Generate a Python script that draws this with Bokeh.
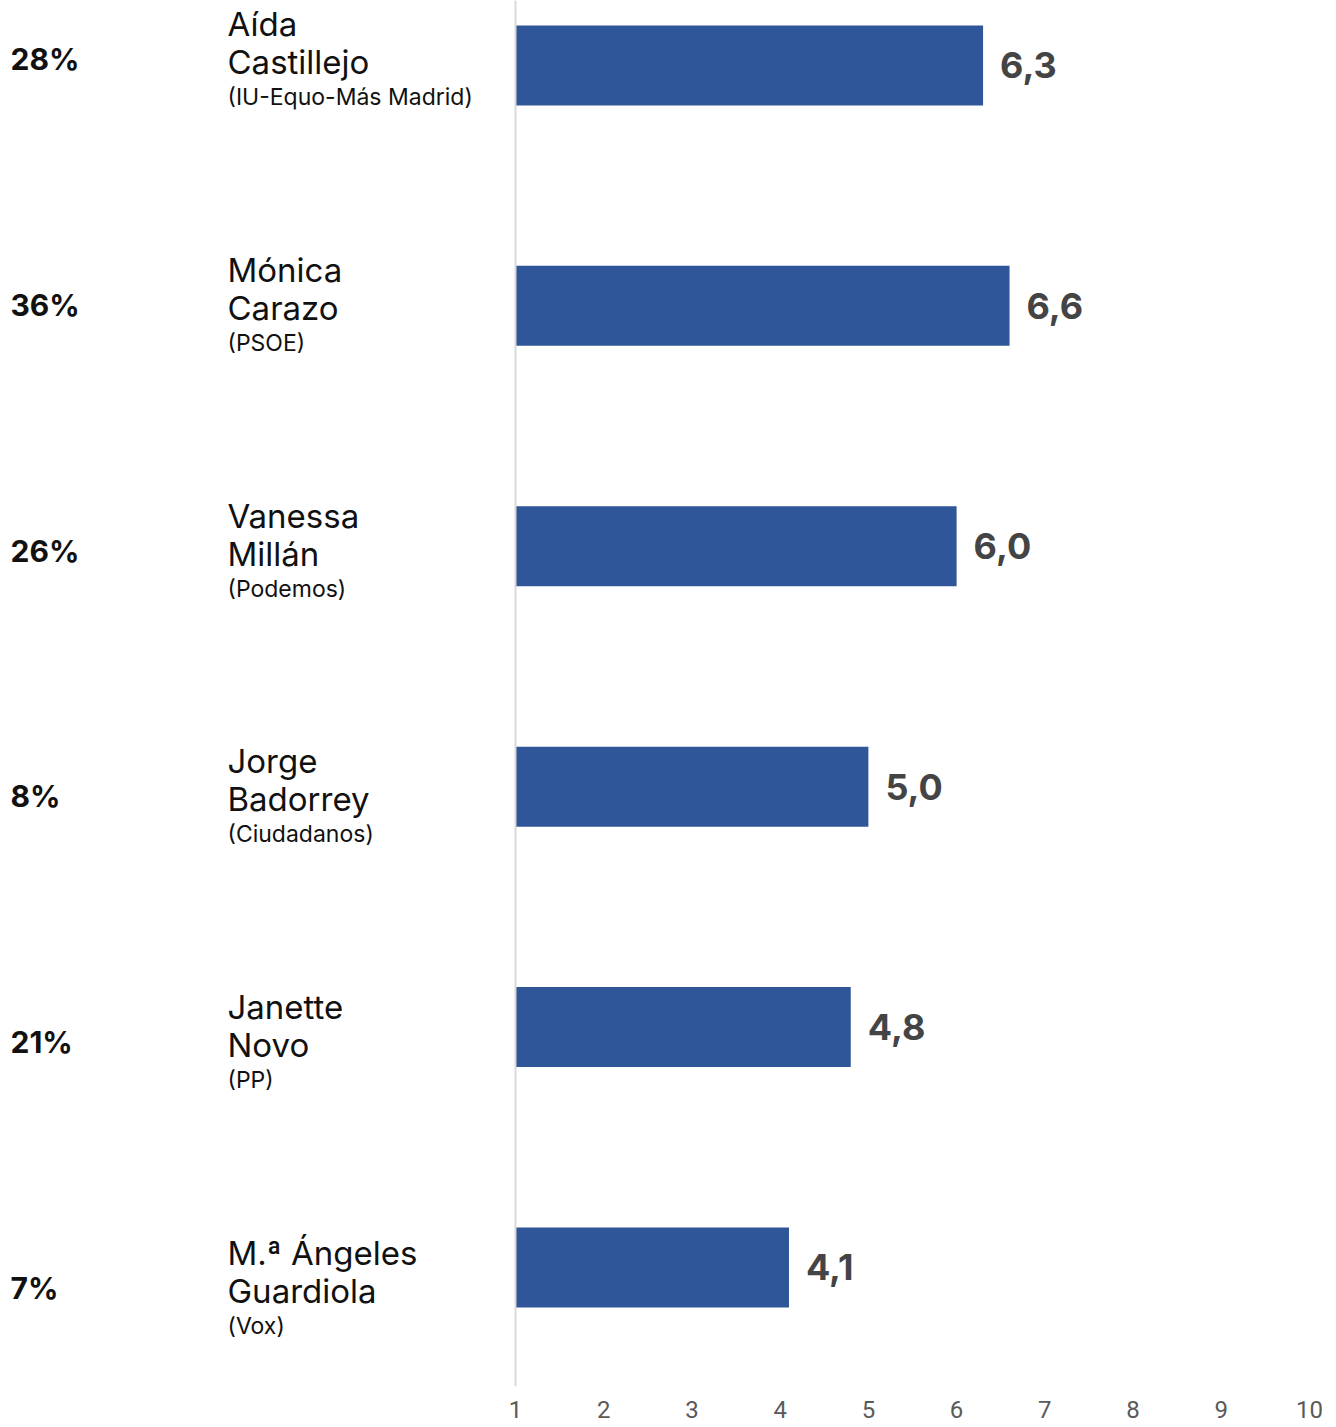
from bokeh.plotting import figure
from bokeh.models import Range1d, FixedTicker, Span, ColumnDataSource
from bokeh.layouts import row
from bokeh.embed import file_html
from bokeh.resources import INLINE
from bokeh.core.properties import value

# ---- data ----
names = ["Aída Castillejo", "Mónica Carazo", "Vanessa Millán",
         "Jorge Badorrey", "Janette Novo", "M.ª Ángeles Guardiola"]
parties = ["(IU-Equo-Más Madrid)", "(PSOE)", "(Podemos)",
           "(Ciudadanos)", "(PP)", "(Vox)"]
percentages = ["28%", "36%", "26%", "8%", "21%", "7%"]
scores = [6.3, 6.6, 6.0, 5.0, 4.8, 4.1]
tick_values = [1, 2, 3, 4, 5, 6, 7, 8, 9, 10]

rows = list(range(len(names)))
first_line = [n.rsplit(" ", 1)[0] for n in names]
second_line = [n.rsplit(" ", 1)[1] for n in names]
score_labels = [f"{s:.1f}".replace(".", ",") for s in scores]

src = ColumnDataSource(dict(row=rows, first=first_line, second=second_line,
                            party=parties, pct=percentages,
                            score=scores, score_label=score_labels,
                            base=[1] * len(rows)))

FONT = value("Inter")
H = 1427

# ---- left label column ----
left = figure(width=488, height=H, x_range=Range1d(0, 488),
              y_range=Range1d(5.403, -0.240), output_backend="svg",
              toolbar_location=None, min_border=0,
              x_axis_type=None, y_axis_type=None)
left.grid.visible = False
left.outline_line_color = None

left.text(x=10, y="row", text="pct", source=src, text_font=FONT,
          text_font_size="30px", text_font_style="bold", text_color="#111111",
          text_baseline="alphabetic", text_align="left")
left.text(x=227, y="row", text="first", source=src, text_font=FONT,
          text_font_size="33px", text_color="#111111", y_offset=-35,
          text_baseline="alphabetic", text_align="left")
left.text(x=227, y="row", text="second", source=src, text_font=FONT,
          text_font_size="33px", text_color="#111111", y_offset=3,
          text_baseline="alphabetic", text_align="left")
left.text(x=227, y="row", text="party", source=src, text_font=FONT,
          text_font_size="23px", text_color="#111111", y_offset=38,
          text_baseline="alphabetic", text_align="left")

# ---- bar chart ----
p = figure(width=848, height=H, x_range=Range1d(0.694, 10.306),
           y_range=Range1d(5.495, -0.270), output_backend="svg",
           toolbar_location=None, min_border_left=0, min_border_right=0,
           min_border_top=0, min_border_bottom=41, y_axis_type=None)
p.grid.visible = False
p.outline_line_color = None

p.hbar(y="row", left="base", right="score", height=0.333, source=src,
       fill_color="#30569a", line_color=None)
p.text(x="score", y="row", text="score_label", source=src, text_font=FONT,
       text_font_size="36px", text_font_style="bold", text_color="#444444",
       text_baseline="middle", text_align="left", x_offset=17)

p.add_layout(Span(location=1, dimension="height", line_color="#d9d9d9",
                  line_width=2))

p.xaxis.ticker = FixedTicker(ticks=tick_values)
p.xaxis.axis_line_color = None
p.xaxis.major_tick_line_color = None
p.xaxis.minor_tick_line_color = None
p.xaxis.major_tick_out = 0
p.xaxis.major_label_standoff = 14
p.xaxis.major_label_text_font = "Roboto"
p.xaxis.major_label_text_font_size = "24px"
p.xaxis.major_label_text_color = "#5a5a5a"

layout = row(left, p, spacing=0)
open("out.html", "w").write(file_html(layout, INLINE))
